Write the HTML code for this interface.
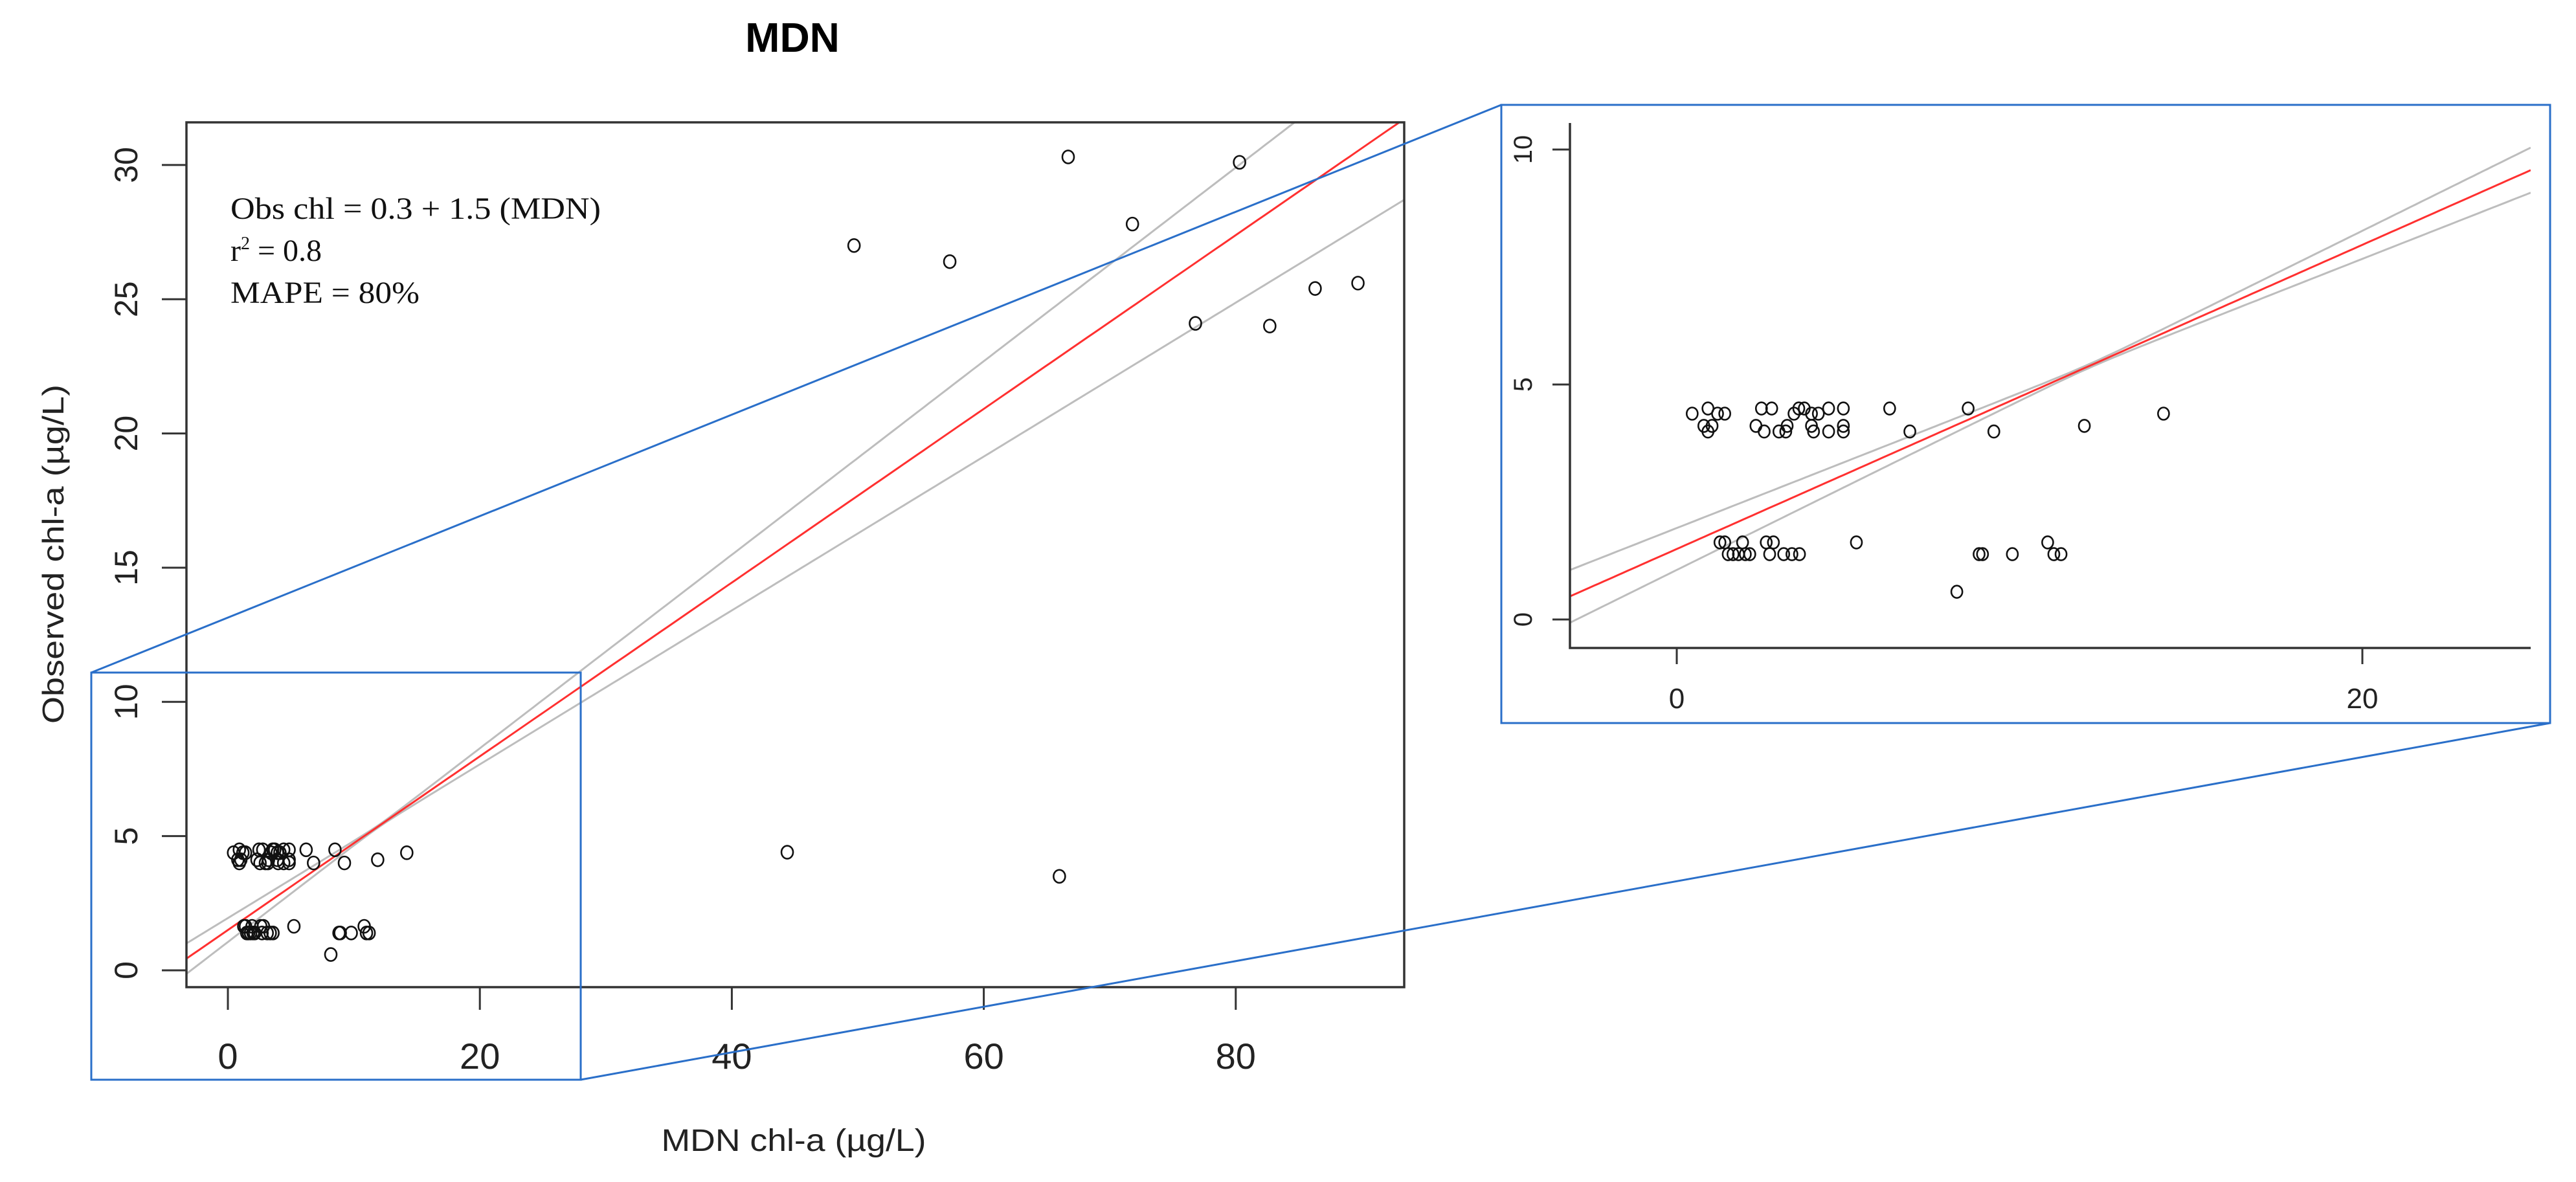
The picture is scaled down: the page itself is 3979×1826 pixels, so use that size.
<!DOCTYPE html>
<html><head><meta charset="utf-8">
<style>
html,body{margin:0;padding:0;background:#fff;}
svg{display:block;}
text{font-family:"Liberation Sans",sans-serif;}
</style></head>
<body>
<svg id="chart" width="3979" height="1826" viewBox="0 0 3979 1826" xmlns="http://www.w3.org/2000/svg">
  <text x="1224" y="80" text-anchor="middle" font-size="64" font-weight="bold">MDN</text>
  <g id="main"></g>
  <g id="inset"></g>
  <g id="zoomlines"></g>
  <text transform="translate(98,856) rotate(-90)" text-anchor="middle" font-size="46" fill="#222" textLength="524" lengthAdjust="spacingAndGlyphs">Observed chl-a (µg/L)</text>
  <text x="1226" y="1778" text-anchor="middle" font-size="48" fill="#222" textLength="409" lengthAdjust="spacingAndGlyphs">MDN chl-a (µg/L)</text>
  <g font-size="48" fill="#111">
    <text x="356" y="338" style="font-family:'Liberation Serif',serif" textLength="572" lengthAdjust="spacingAndGlyphs">Obs chl = 0.3 + 1.5 (MDN)</text>
    <text x="356" y="403" style="font-family:'Liberation Serif',serif">r<tspan font-size="28" dy="-18">2</tspan><tspan dy="18"> = 0.8</tspan></text>
    <text x="356" y="468" style="font-family:'Liberation Serif',serif" textLength="292" lengthAdjust="spacingAndGlyphs">MAPE = 80%</text>
  </g>
</svg>
<script>
const xVals = [66.7,80.3,49.7,57.3,71.8,76.8,82.7,86.3,89.7,44.4,66.0,
 0.45,0.91,1.19,1.40,0.79,1.03,0.91,2.47,2.77,2.31,2.55,2.98,3.22,3.18,3.42,3.56,3.72,3.93,4.13,3.93,3.99,4.43,4.43,4.86,4.86,4.86,6.21,6.80,8.50,9.25,11.89,14.20,
 1.26,1.40,1.50,1.64,1.80,1.92,2.00,2.13,2.61,2.82,2.71,3.12,3.36,3.58,5.24,8.17,8.82,8.92,9.79,10.82,11.00,11.21];
const yVals = [30.3,30.1,27.0,26.4,27.8,24.1,24.0,25.4,25.6,4.4,3.5,
 4.38,4.49,4.38,4.38,4.12,4.12,4.00,4.49,4.49,4.12,4.00,4.00,4.12,4.00,4.38,4.49,4.49,4.38,4.38,4.12,4.00,4.49,4.00,4.49,4.12,4.00,4.49,4.00,4.49,4.00,4.12,4.38,
 1.64,1.64,1.39,1.39,1.39,1.64,1.39,1.39,1.64,1.64,1.39,1.39,1.39,1.39,1.64,0.59,1.39,1.39,1.39,1.64,1.39,1.39];
const fitIntercept = 1.5;
const fitSlope = 0.3236;
const bandCenter = 12;
const bandRate = 0.037;
const mainXTicks = [0,20,40,60,80];
const mainYTicks = [0,5,10,15,20,25,30];
const insetXTicks = [0,20];
const insetYTicks = [0,5,10];

const NS = "http://www.w3.org/2000/svg";
function mk(tag, attrs, parent){const e=document.createElementNS(NS,tag);for(const k in attrs)e.setAttribute(k,attrs[k]);parent.appendChild(e);return e;}
function fit(x){return fitIntercept+fitSlope*x;}
function bw(x){return Math.sqrt(0.0016+Math.pow(bandRate*(x-bandCenter),2));}

function drawPlot(g, sx, sy, xmin, xmax, ymaxClip, ymin, r, prefix){
  // clip
  const cid = prefix+"-clip";
  const defs = mk("defs",{},g);
  const cp = mk("clipPath",{id:cid},defs);
  mk("rect",{x:sx(xmin),y:sy(ymaxClip),width:sx(xmax)-sx(xmin),height:sy(ymin)-sy(ymaxClip)},cp);
  const lg = mk("g",{"clip-path":"url(#"+cid+")"},g);
  
  
  const steps=200;
  ["upper","lower","fit"].forEach(kind=>{
    let d="";
    for(let i=0;i<=steps;i++){
      const x=xmin+(xmax-xmin)*i/steps;
      let y=fit(x);
      if(kind==="upper") y+=bw(x);
      if(kind==="lower") y-=bw(x);
      d+=(i?"L":"M")+sx(x).toFixed(1)+","+sy(y).toFixed(1);
    }
    const p=mk("path",{d:d,fill:"none",stroke:kind==="fit"?"#ff3030":"#bdbdbd","stroke-width":kind==="fit"?3:3},lg);
    
    
  });
  const pg = mk("g",{},g);
  
  
  for(let i=0;i<xVals.length;i++){
    if(xVals[i]<xmin||xVals[i]>xmax||yVals[i]>ymaxClip) continue;
    const c=mk("ellipse",{cx:sx(xVals[i]),cy:sy(yVals[i]),rx:r*0.9,ry:r,fill:"none",stroke:"#111","stroke-width":2.6},pg);
    
    
  }
}

// main plot
const main=document.getElementById("main");
const L=288,R=2169,T=189,B=1525;
const mx=v=>352+v*19.46, my=v=>1499-v*41.47;
drawPlot(main,mx,my,(L-352)/19.46,(R-352)/19.46,(1499-T)/41.47,(1499-B)/41.47,10,"main");
const frame=mk("rect",{x:L,y:T,width:R-L,height:B-T,fill:"none",stroke:"#333","stroke-width":3.5},main);


mainXTicks.forEach(t=>{
  const l=mk("line",{x1:mx(t),x2:mx(t),y1:B,y2:1560,stroke:"#333","stroke-width":3},main);
  
  
  const tx=mk("text",{x:mx(t),y:1651,"text-anchor":"middle","font-size":56,fill:"#222"},main);
  
  
  tx.textContent=t;
});
mainYTicks.forEach(t=>{
  const l=mk("line",{x1:250,x2:L,y1:my(t),y2:my(t),stroke:"#333","stroke-width":3},main);
  
  
  const tx=mk("text",{transform:"translate(212,"+my(t)+") rotate(-90)","text-anchor":"middle","font-size":50,fill:"#222"},main);
  
  
  tx.textContent=t;
});

// inset plot
const inset=document.getElementById("inset");
const IL=2425,IR=3909,IT=190,IB=1001;
const ix=v=>2590+v*52.95, iy=v=>957-v*72.6;
mk("rect",{x:2319,y:162,width:1620,height:955,fill:"#fff",stroke:"none"},inset);
drawPlot(inset,ix,iy,(IL-2590)/52.95,(IR-2590)/52.95,(957-IT)/72.6,(957-IB)/72.6,9.5,"inset");
const ax=mk("path",{d:`M${IL},${IT}L${IL},${IB}L${IR},${IB}`,fill:"none",stroke:"#333","stroke-width":3.5},inset);


insetXTicks.forEach(t=>{
  const l=mk("line",{x1:ix(t),x2:ix(t),y1:IB,y2:1026,stroke:"#333","stroke-width":3},inset);
  
  
  const tx=mk("text",{x:ix(t),y:1094,"text-anchor":"middle","font-size":44,fill:"#222"},inset);
  
  
  tx.textContent=t;
});
insetYTicks.forEach(t=>{
  const l=mk("line",{x1:2398,x2:IL,y1:iy(t),y2:iy(t),stroke:"#333","stroke-width":3},inset);
  
  
  const tx=mk("text",{transform:"translate(2366,"+iy(t)+") rotate(-90)","text-anchor":"middle","font-size":40,fill:"#222"},inset);
  
  
  tx.textContent=t;
});
const ib=mk("rect",{x:2319,y:162,width:1620,height:955,fill:"none",stroke:"#2a6fc9","stroke-width":3},inset);



// zoom region + connectors
const zl=document.getElementById("zoomlines");
const zr=mk("rect",{x:141,y:1039,width:756,height:629,fill:"none",stroke:"#2a6fc9","stroke-width":3},zl);


const c1=mk("line",{x1:141,y1:1039,x2:2319,y2:162,stroke:"#2a6fc9","stroke-width":3},zl);


const c2=mk("line",{x1:897,y1:1668,x2:3939,y2:1117,stroke:"#2a6fc9","stroke-width":3},zl);


</script>
</body></html>
